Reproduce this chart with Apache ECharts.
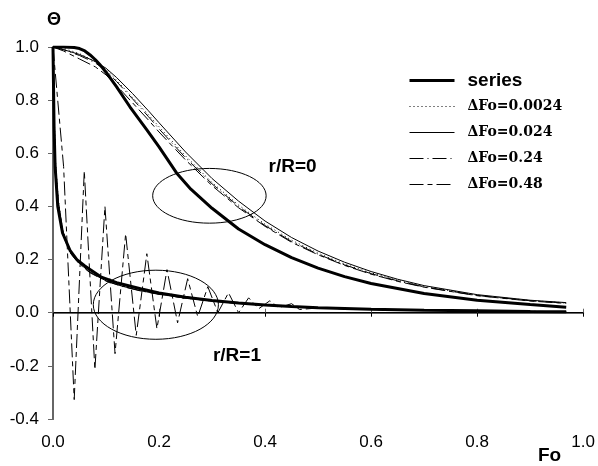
<!DOCTYPE html>
<html><head><meta charset="utf-8">
<script src="https://cdn.jsdelivr.net/npm/echarts@6/dist/echarts.min.js"></script>
<style>html,body{margin:0;padding:0;background:#fff}#c{width:598px;height:466px}</style>
</head><body><div id="c"></div>
<script>
// ---------- tick values ----------
const xTickMin = 0, xTickMax = 1.0, xTickStep = 0.2;
const xTickValues = [0, 0.2, 0.4, 0.6, 0.8, 1.0];
const yTickMin = -0.4, yTickMax = 1.0, yTickStep = 0.2;
const legendNames = ['series', 'ΔFo=0.0024', 'ΔFo=0.024', 'ΔFo=0.24', 'ΔFo=0.48'];

// ---------- r/R = 0 (centre) ----------
const c_series_x = [0,0.02,0.04,0.05,0.06,0.07,0.08,0.09,0.1,0.12,0.145,0.177,0.2,0.233,0.26,0.3,0.35,0.4,0.45,0.5,0.55,0.6,0.7,0.8,0.9,0.968];
const c_series_y = [1,1,0.998,0.994,0.985,0.97,0.952,0.93,0.905,0.85,0.775,0.688,0.624,0.526,0.465,0.393,0.315,0.256,0.207,0.168,0.136,0.11,0.072,0.047,0.031,0.021];

const c_apx_x   = [0,0.02,0.05,0.08,0.1,0.12,0.15,0.18,0.2,0.25,0.3,0.35,0.4,0.45,0.5,0.55,0.6,0.65,0.7,0.8,0.9,0.968];
const c_d0024_y = [1,0.995,0.975,0.945,0.915,0.875,0.81,0.745,0.70,0.59,0.49,0.405,0.333,0.273,0.224,0.183,0.15,0.122,0.099,0.066,0.046,0.037];
const c_d024_y  = [1,0.99,0.972,0.945,0.92,0.885,0.825,0.76,0.715,0.605,0.505,0.42,0.345,0.283,0.232,0.19,0.155,0.126,0.102,0.068,0.047,0.038];
const c_d24_y   = [1,0.99,0.968,0.94,0.91,0.87,0.805,0.738,0.692,0.583,0.485,0.40,0.328,0.268,0.22,0.18,0.147,0.12,0.097,0.065,0.045,0.036];
const c_d48_y   = [1,0.985,0.955,0.925,0.895,0.855,0.79,0.725,0.68,0.575,0.478,0.395,0.325,0.265,0.218,0.178,0.145,0.118,0.096,0.064,0.044,0.035];

// ---------- r/R = 1 (surface) ----------
const s_series_x = [0,0.001,0.002,0.004,0.009,0.018,0.032,0.045,0.06,0.09,0.12,0.165,0.2,0.25,0.3,0.35,0.4,0.45,0.5,0.6,0.7,0.8,0.9,0.968];
const s_series_y = [1,0.85,0.7,0.55,0.40,0.30,0.235,0.2,0.176,0.135,0.113,0.09,0.074,0.058,0.046,0.037,0.029,0.023,0.019,0.013,0.009,0.007,0.005,0.004];

const s_apx_x   = [0,0.002,0.005,0.01,0.018,0.028,0.035,0.05,0.07,0.1,0.13,0.165,0.2,0.25,0.3,0.35,0.4,0.45,0.5,0.6,0.7,0.8,0.9,0.968];
const s_d0024_y = [1,0.76,0.56,0.425,0.315,0.252,0.22,0.186,0.153,0.121,0.101,0.084,0.071,0.056,0.045,0.036,0.028,0.023,0.018,0.012,0.009,0.007,0.005,0.004];
const s_d024_y  = [1,0.75,0.55,0.42,0.31,0.25,0.218,0.185,0.152,0.12,0.10,0.083,0.07,0.055,0.044,0.035,0.028,0.023,0.018,0.012,0.009,0.007,0.005,0.004];
const s_d24_y   = [1,0.74,0.54,0.41,0.30,0.245,0.22,0.182,0.15,0.119,0.099,0.082,0.069,0.055,0.044,0.035,0.028,0.023,0.018,0.012,0.009,0.007,0.005,0.004];

const s_d48_x = [0,0.02,0.04,0.059,0.079,0.098,0.117,0.137,0.157,0.177,0.196,0.215,0.235,0.254,0.273,0.292,0.311,0.331,0.35,0.369,0.388,0.409,0.426,0.45,0.465,0.5,0.6,0.7,0.8,0.9,0.968];
const s_d48_y = [1.0,0.55,-0.327,0.534,-0.214,0.40,-0.154,0.297,-0.085,0.222,-0.06,0.162,-0.038,0.128,-0.015,0.098,0.0,0.075,0.0,0.056,0.015,0.045,0.019,0.034,0.012,0.018,0.012,0.009,0.007,0.005,0.004];

// ---------- annotations (data coordinates) ----------
const ellipse1 = {cx: 0.295, cy: 0.44, rx: 0.107, ry: 0.103};
const ellipse2 = {cx: 0.194, cy: 0.03, rx: 0.118, ry: 0.13};
const label1 = {text: 'r/R=0', x: 0.452, y: 0.548};
const label2 = {text: 'r/R=1', x: 0.347, y: -0.162};

const zip = (xs, ys) => xs.map((v, i) => [v, ys[i]]);

const styles = {
  'series':      {width: 3, type: 'solid'},
  'ΔFo=0.0024':  {width: 1, type: [1, 3]},
  'ΔFo=0.024':   {width: 1, type: 'solid'},
  'ΔFo=0.24':    {width: 1, type: [14, 4, 1, 4]},
  'ΔFo=0.48':    {width: 1, type: [14, 4, 5, 4]}
};

function mk(name, xs, ys, z) {
  return {
    type: 'line', name: name, data: zip(xs, ys), symbol: 'none', showSymbol: false,
    xAxisIndex: 0, yAxisIndex: 0, z: z || 2, animation: false,
    lineStyle: {color: '#000', width: styles[name].width, type: styles[name].type},
    itemStyle: {color: '#000', opacity: 0}
  };
}

const chart = echarts.init(document.getElementById('c'), null, {renderer: 'canvas'});
const fmt = v => Number(v).toFixed(1);
const serifBold = {fontFamily: 'DejaVu Serif', fontWeight: 'bold', fontSize: 14, color: '#000'};

chart.setOption({
  animation: false,
  backgroundColor: '#fff',
  grid: {left: 53, right: 14, top: 47, bottom: 47, containLabel: false},
  legend: {
    orient: 'vertical', left: 403, top: 66, itemWidth: 45, itemHeight: 14, itemGap: 7,
    lineStyle: {width: 'inherit', type: 'inherit'},
    textStyle: {padding: [0, 0, 0, 8], lineHeight: 19},
    data: [
      {name: 'series', lineStyle: {width: 3}, textStyle: {fontFamily: 'Liberation Sans', fontWeight: 'bold', fontSize: 19, color: '#000', lineHeight: 19}},
      {name: 'ΔFo=0.0024', lineStyle: {width: 1}, textStyle: serifBold},
      {name: 'ΔFo=0.024', lineStyle: {width: 1}, textStyle: serifBold},
      {name: 'ΔFo=0.24', lineStyle: {width: 1}, textStyle: serifBold},
      {name: 'ΔFo=0.48', lineStyle: {width: 1}, textStyle: serifBold}
    ]
  },
  xAxis: [
    {type: 'value', position: 'bottom', min: xTickMin, max: xTickMax, interval: xTickStep,
     axisLine: {lineStyle: {color: '#666', width: 2}},
     axisTick: {inside: true, length: 4, lineStyle: {color: '#666'}},
     axisLabel: {formatter: fmt, fontFamily: 'Liberation Sans', fontSize: 17, color: '#000', margin: 15,
                 customValues: xTickValues, showMaxLabel: true, showMinLabel: true, hideOverlap: false},
     splitLine: {show: false}},
    {type: 'value', position: 'top', min: xTickMin, max: xTickMax, interval: xTickStep,
     axisLine: {lineStyle: {color: '#000', width: 1}},
     axisTick: {inside: true, length: 4, lineStyle: {color: '#000'}},
     axisLabel: {show: false}, splitLine: {show: false}}
  ],
  yAxis: [
    {type: 'value', position: 'left', min: yTickMin, max: yTickMax, interval: yTickStep,
     axisLine: {lineStyle: {color: '#666', width: 2}},
     axisTick: {inside: false, length: 5, lineStyle: {color: '#666'}},
     axisLabel: {formatter: fmt, fontFamily: 'Liberation Sans', fontSize: 17, color: '#000', margin: 14},
     splitLine: {show: false}},
    {type: 'value', position: 'right', min: yTickMin, max: yTickMax, interval: yTickStep,
     axisLine: {lineStyle: {color: '#666', width: 2}},
     axisTick: {show: false},
     axisLabel: {show: false}, splitLine: {show: false}}
  ],
  series: [
    mk('series', c_series_x, c_series_y, 5),
    mk('ΔFo=0.0024', c_apx_x, c_d0024_y),
    mk('ΔFo=0.024', c_apx_x, c_d024_y),
    mk('ΔFo=0.24', c_apx_x, c_d24_y),
    mk('ΔFo=0.48', c_apx_x, c_d48_y),
    mk('series', s_series_x, s_series_y, 5),
    mk('ΔFo=0.0024', s_apx_x, s_d0024_y),
    mk('ΔFo=0.024', s_apx_x, s_d024_y),
    mk('ΔFo=0.24', s_apx_x, s_d24_y),
    mk('ΔFo=0.48', s_d48_x, s_d48_y)
  ]
});

function px(x, y) { return chart.convertToPixel({xAxisIndex: 0, yAxisIndex: 0}, [x, y]); }
function ell(e) {
  const c = px(e.cx, e.cy), r = px(e.cx + e.rx, e.cy + e.ry);
  return {type: 'ellipse', shape: {cx: c[0], cy: c[1], rx: Math.abs(r[0] - c[0]), ry: Math.abs(c[1] - r[1])},
          style: {fill: null, stroke: '#000', lineWidth: 1}, z: 10, silent: true};
}
function lbl(l) {
  const p = px(l.x, l.y);
  return {type: 'text', x: p[0], y: p[1], z: 10, silent: true,
          style: {text: l.text, fill: '#000', font: 'bold 19px "Liberation Sans"', align: 'center', verticalAlign: 'middle'}};
}
chart.setOption({
  graphic: [
    ell(ellipse1), ell(ellipse2), lbl(label1), lbl(label2),
    {type: 'text', left: 47, top: 11, silent: true,
     style: {text: 'Θ', fill: '#000', font: 'bold 18px "Liberation Sans"'}},
    {type: 'text', left: 538, top: 446, silent: true,
     style: {text: 'Fo', fill: '#000', font: 'bold 19px "Liberation Sans"'}}
  ]
});
</script></body></html>
